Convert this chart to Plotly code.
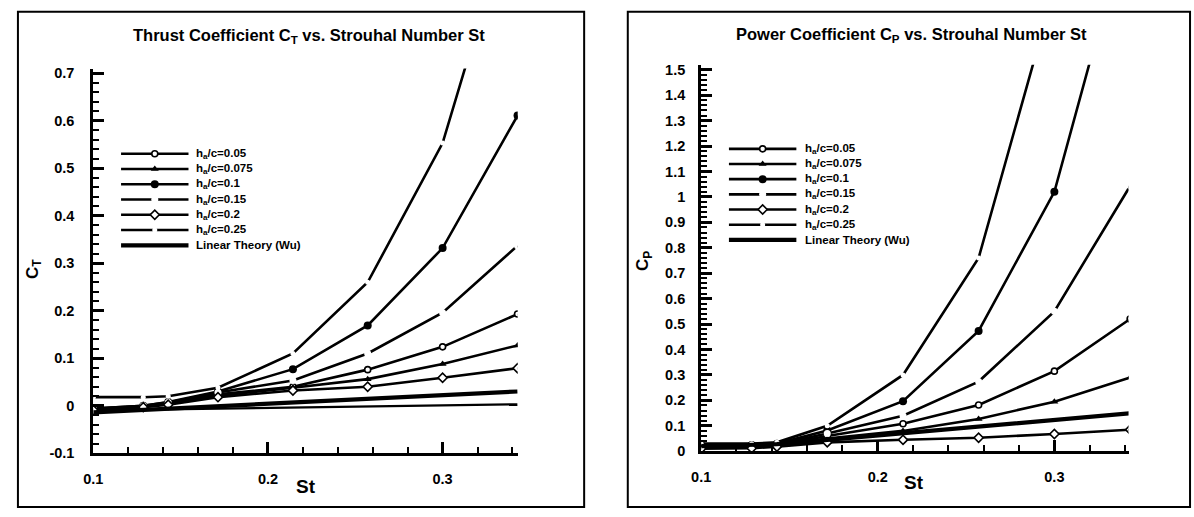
import plotly.graph_objects as go

# Strouhal numbers at which the coefficients were computed
st = [0.1, 0.1286, 0.1429, 0.1714, 0.2143, 0.2571, 0.3, 0.3429]

# Thrust coefficient C_T for each heave amplitude
ct_005 = [-0.007, -0.001, 0.005, 0.024, 0.040, 0.076, 0.124, 0.193]
ct_0075 = [-0.008, -0.002, 0.004, 0.021, 0.038, 0.056, 0.088, 0.127]
ct_01 = [-0.006, 0.000, 0.008, 0.030, 0.077, 0.169, 0.332, 0.611]
ct_015 = [-0.006, 0.000, 0.007, 0.028, 0.053, 0.110, 0.196, 0.337]
ct_02 = [-0.009, -0.003, 0.002, 0.018, 0.032, 0.040, 0.059, 0.079]
ct_025 = [0.018, 0.018, 0.020, 0.038, 0.110, 0.260, 0.553, 1.080]
ct_linear = [-0.014, -0.0088, -0.0062, -0.0011, 0.0067, 0.0144, 0.0222, 0.030]
ct_linear_b = [-0.010, -0.0085, -0.0077, -0.0062, -0.0039, -0.0016, 0.0007, 0.003]

# Power coefficient C_P for each heave amplitude
cp_005 = [0.020, 0.020, 0.025, 0.060, 0.108, 0.182, 0.315, 0.520]
cp_0075 = [0.015, 0.016, 0.022, 0.050, 0.080, 0.127, 0.195, 0.290]
cp_01 = [0.025, 0.025, 0.030, 0.082, 0.197, 0.473, 1.020, 2.110]
cp_015 = [0.020, 0.020, 0.027, 0.070, 0.140, 0.274, 0.550, 1.043]
cp_02 = [0.010, 0.012, 0.018, 0.035, 0.045, 0.053, 0.068, 0.085]
cp_025 = [0.030, 0.030, 0.035, 0.100, 0.300, 0.760, 1.820, 3.400]
cp_linear = [0.020, 0.024, 0.028, 0.045, 0.070, 0.095, 0.122, 0.149]

legend_labels = ["h<sub>a</sub>/c=0.05", "h<sub>a</sub>/c=0.075", "h<sub>a</sub>/c=0.1",
                 "h<sub>a</sub>/c=0.15", "h<sub>a</sub>/c=0.2", "h<sub>a</sub>/c=0.25",
                 "Linear Theory (Wu)"]

x_ticks = [0.1, 0.2, 0.3]
x_ticktext = ["0.1", "0.2", "0.3"]
ct_ticks = [-0.1, 0, 0.1, 0.2, 0.3, 0.4, 0.5, 0.6, 0.7]
ct_ticktext = ["-0.1", "0", "0.1", "0.2", "0.3", "0.4", "0.5", "0.6", "0.7"]
cp_ticks = [0, 0.1, 0.2, 0.3, 0.4, 0.5, 0.6, 0.7, 0.8, 0.9, 1, 1.1, 1.2, 1.3, 1.4, 1.5]
cp_ticktext = ["0", "0.1", "0.2", "0.3", "0.4", "0.5", "0.6", "0.7", "0.8", "0.9",
               "1", "1.1", "1.2", "1.3", "1.4", "1.5"]

W, H = 1194, 517
FONT = "Liberation Sans, Arial, sans-serif"
K = "black"

# line / marker style for each legend entry
styles = [
    dict(width=2.6, marker=dict(symbol="circle", size=6, color="white", line=dict(color=K, width=1.6))),
    dict(width=2.6, marker=dict(symbol="triangle-up", size=7, color=K, line=dict(width=0))),
    dict(width=2.6, marker=dict(symbol="circle", size=8, color=K, line=dict(width=0))),
    dict(width=2.6, marker=dict(symbol="circle", size=7, color="white", line=dict(width=0))),
    dict(width=2.6, marker=dict(symbol="diamond", size=7, color="white", line=dict(color=K, width=1.6))),
    dict(width=2.6, marker=dict(symbol="circle", size=5, color="white", line=dict(width=0))),
    dict(width=4.2, marker=None),
]

ct_series = [ct_005, ct_0075, ct_01, ct_015, ct_02, ct_025, ct_linear]
cp_series = [cp_005, cp_0075, cp_01, cp_015, cp_02, cp_025, cp_linear]

fig = go.Figure()


def add_curve(x, y, sty, xa, ya, name):
    if sty["marker"] is None:
        fig.add_trace(go.Scatter(x=x, y=y, mode="lines", name=name, showlegend=False,
                                 line=dict(color=K, width=sty["width"]),
                                 xaxis=xa, yaxis=ya))
    else:
        fig.add_trace(go.Scatter(x=x, y=y, mode="lines+markers", name=name, showlegend=False,
                                 line=dict(color=K, width=sty["width"]),
                                 marker=sty["marker"], cliponaxis=True,
                                 xaxis=xa, yaxis=ya))


fig.add_trace(go.Scatter(x=st, y=ct_linear_b, mode="lines", showlegend=False,
                         name=legend_labels[-1], line=dict(color=K, width=2.2),
                         xaxis="x", yaxis="y"))
for ys, sty, lab in zip(ct_series, styles, legend_labels):
    add_curve(st, ys, sty, "x", "y", lab)
for ys, sty, lab in zip(cp_series, styles, legend_labels):
    add_curve(st, ys, sty, "x2", "y2", lab)

# Legend samples, drawn on a pixel-unit overlay axis
legends = [dict(x0=112, x1=180, tx=186, y0=154, dy=15.6),
           dict(x0=725, x1=793, tx=800, y0=149, dy=15.5)]
annotations = []
for lg in legends:
    for i, (sty, lab) in enumerate(zip(styles, legend_labels)):
        yy = lg["y0"] + i * lg["dy"]
        xm = (lg["x0"] + lg["x1"]) / 2
        fig.add_trace(go.Scatter(x=[lg["x0"], lg["x1"]], y=[yy, yy], mode="lines",
                                 showlegend=False, hoverinfo="skip",
                                 line=dict(color=K, width=sty["width"]),
                                 xaxis="x3", yaxis="y3"))
        if sty["marker"] is not None:
            fig.add_trace(go.Scatter(x=[xm], y=[yy], mode="markers", showlegend=False,
                                     hoverinfo="skip", marker=sty["marker"],
                                     xaxis="x3", yaxis="y3"))
        annotations.append(dict(x=lg["tx"] / W, y=1 - yy / H, xref="paper", yref="paper",
                                text=lab, showarrow=False, xanchor="left", yanchor="middle",
                                font=dict(family=FONT, size=11.5, color=K, weight="bold")))

# Titles and axis titles
def txt(x, y, s, size, angle=0):
    annotations.append(dict(x=x / W, y=1 - y / H, xref="paper", yref="paper", text=s,
                            showarrow=False, xanchor="center", yanchor="middle",
                            textangle=angle,
                            font=dict(family=FONT, size=size, color=K, weight="bold")))


txt(302, 34, "Thrust Coefficient C<sub>T</sub> vs. Strouhal Number St", 16.5)
txt(909, 33, "Power Coefficient C<sub>P</sub> vs. Strouhal Number St", 16.5)
txt(298, 494, "St", 19)
txt(912, 490, "St", 19)
txt(24, 272, "C<sub>T</sub>", 17, -90)
txt(640, 264, "C<sub>P</sub>", 17, -90)

tickfont = dict(family=FONT, size=14.5, color=K, weight="bold")


def xaxis(dom, rng):
    return dict(domain=[dom[0] / W, dom[1] / W], range=rng, showgrid=False, zeroline=False,
                showline=True, linecolor=K, linewidth=3, ticks="inside", ticklen=11,
                tickwidth=3, tickcolor=K, tickvals=x_ticks, ticktext=x_ticktext,
                tickfont=tickfont, ticklabelstandoff=10,
                minor=dict(dtick=0.02, tick0=0.1, ticks="inside", ticklen=6, tickwidth=2,
                           tickcolor=K, showgrid=False))


def yaxis(dom, rng, tv, tt, standoff):
    return dict(domain=[1 - dom[1] / H, 1 - dom[0] / H], range=rng, showgrid=False,
                zeroline=False, showline=True, linecolor=K, linewidth=3, ticks="inside",
                ticklen=11, tickwidth=3, tickcolor=K, tickvals=tv, ticktext=tt,
                tickfont=tickfont, ticklabelstandoff=standoff,
                minor=dict(dtick=0.02, tick0=0, ticks="inside", ticklen=6, tickwidth=2,
                           tickcolor=K, showgrid=False))


# panel frames
shapes = [
    dict(type="rect", xref="paper", yref="paper", x0=8 / W, x1=579 / W,
         y0=1 - 515 / H, y1=1 - 9 / H, line=dict(color=K, width=2)),
    dict(type="rect", xref="paper", yref="paper", x0=623 / W, x1=1190 / W,
         y0=1 - 515 / H, y1=1 - 9 / H, line=dict(color=K, width=2)),
]

fig.update_layout(
    width=W, height=H, margin=dict(l=0, r=0, t=0, b=0),
    paper_bgcolor="white", plot_bgcolor="rgba(0,0,0,0)", showlegend=False,
    xaxis=xaxis((84, 512), [0.1, 0.343]) | dict(anchor="y"),
    yaxis=yaxis((67, 460), [-0.1, 0.71], ct_ticks, ct_ticktext, 13) | dict(anchor="x"),
    xaxis2=xaxis((697, 1128), [0.1, 0.342]) | dict(anchor="y2"),
    yaxis2=yaxis((63, 458), [0, 1.52], cp_ticks, cp_ticktext, 10) | dict(anchor="x2"),
    xaxis3=dict(domain=[0, 1], range=[0, W], visible=False, anchor="y3", fixedrange=True),
    yaxis3=dict(domain=[0, 1], range=[H, 0], visible=False, anchor="x3", fixedrange=True),
    annotations=annotations, shapes=shapes,
)

fig.write_html("out.html")
